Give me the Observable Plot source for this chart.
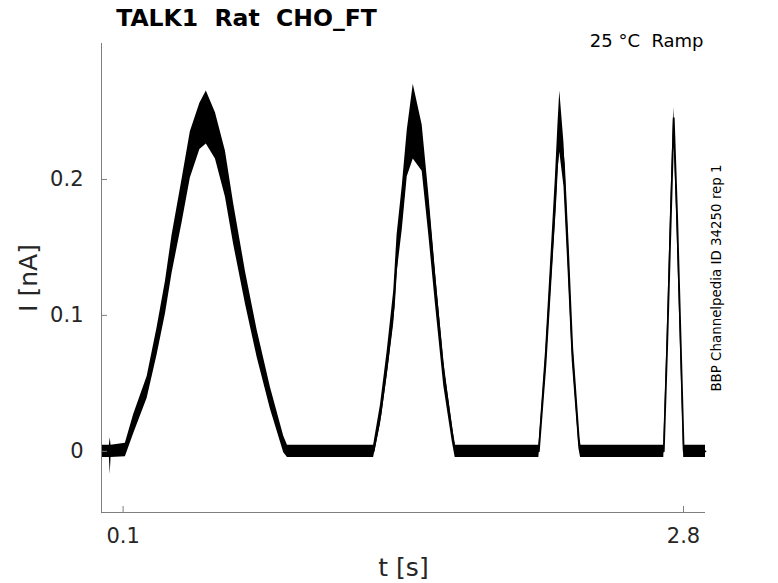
<!DOCTYPE html>
<html>
<head>
<meta charset="utf-8">
<script src="https://cdn.jsdelivr.net/npm/d3@7"></script>
<script src="https://cdn.jsdelivr.net/npm/@observablehq/plot@0.6"></script>
<style>
  body { margin: 0; background: #fff; }
  svg text { white-space: pre; }
</style>
</head>
<body>
<div id="chart"></div>
<script>
// ---- data ----
const titleText = "TALK1  Rat  CHO_FT";
const conditionText = "25 °C  Ramp";
const sourceText = "BBP Channelpedia ID 34250 rep 1";
const xLabel = "t [s]";
const yLabel = "I [nA]";
const xTicks = [0.1, 2.8];
const yTicks = [0, 0.1, 0.2];
const xDomain = [-0.004, 2.906];
const yDomain = [-0.045, 0.3];

// time (s), mid current (nA), lower and upper edge of the noisy trace band (nA)
const tPts = [0.000, 0.034, 0.038, 0.042, 0.111, 0.151, 0.216, 0.264, 0.304, 0.336, 0.384, 0.424, 0.470, 0.501, 0.545, 0.593, 0.633, 0.690, 0.746, 0.810, 0.874, 0.892,
  1.100, 1.307, 1.340, 1.372, 1.404, 1.420, 1.445, 1.469, 1.498, 1.541, 1.573, 1.605, 1.645, 1.686, 1.700,
  1.900, 2.103, 2.135, 2.159, 2.183, 2.195, 2.204, 2.224, 2.243, 2.264, 2.296, 2.304,
  2.500, 2.705, 2.721, 2.737, 2.753, 2.769, 2.785, 2.801, 2.906];
const iMid = [0, 0, 0, 0, 0.001, 0.020, 0.047, 0.081, 0.113, 0.145, 0.184, 0.218, 0.238, 0.245, 0.232, 0.204, 0.167, 0.120, 0.079, 0.039, 0.005, 0,
  0, 0, 0.027, 0.064, 0.106, 0.145, 0.179, 0.219, 0.242, 0.223, 0.174, 0.120, 0.057, 0.013, 0,
  0, 0, 0.064, 0.125, 0.186, 0.223, 0.240, 0.211, 0.150, 0.076, 0.008, 0,
  0, 0, 0.076, 0.162, 0.245, 0.174, 0.088, 0, 0];
const iLo = [-0.0045, -0.0045, -0.017, -0.0045, -0.004, 0.013, 0.039, 0.071, 0.101, 0.131, 0.168, 0.201, 0.222, 0.226, 0.215, 0.187, 0.152, 0.108, 0.069, 0.031, -0.001, -0.0045,
  -0.0045, -0.0045, 0.020, 0.055, 0.094, 0.131, 0.163, 0.202, 0.215, 0.206, 0.159, 0.108, 0.048, 0.007, -0.0045,
  -0.0045, -0.0045, 0.055, 0.113, 0.170, 0.206, 0.220, 0.195, 0.136, 0.066, 0.002, -0.0045,
  -0.0045, -0.0045, 0.068, 0.150, 0.238, 0.162, 0.079, -0.0045, -0.0045];
const iHi = [0.0045, 0.0045, 0.010, 0.0045, 0.006, 0.027, 0.055, 0.091, 0.125, 0.159, 0.200, 0.235, 0.256, 0.265, 0.249, 0.221, 0.182, 0.132, 0.089, 0.047, 0.011, 0.0045,
  0.0045, 0.0045, 0.034, 0.073, 0.118, 0.159, 0.195, 0.236, 0.270, 0.240, 0.189, 0.132, 0.066, 0.019, 0.0045,
  0.0045, 0.0045, 0.073, 0.137, 0.202, 0.240, 0.265, 0.227, 0.164, 0.086, 0.014, 0.0045,
  0.0045, 0.0045, 0.084, 0.174, 0.253, 0.186, 0.097, 0.0045, 0.0045];

const trace = tPts.map((t, i) => ({t, mid: iMid[i], lo: iLo[i], hi: iHi[i]}));

const axisGray = "#7f7f7f";
const textGray = "#262626";

const chart = Plot.plot({
  width: 778,
  height: 583,
  marginLeft: 101,
  marginRight: 73,
  marginTop: 43,
  marginBottom: 71,
  style: {fontFamily: "DejaVu Sans", background: "#fff"},
  x: {domain: xDomain},
  y: {domain: yDomain},
  marks: [
    Plot.areaY(trace, {x: "t", y1: "lo", y2: "hi", fill: "black", curve: "linear"}),
    Plot.line(trace, {x: "t", y: "mid", stroke: "black", strokeWidth: 1.8}),
    Plot.ruleX([xDomain[0]], {stroke: axisGray, strokeWidth: 1}),
    Plot.ruleY([yDomain[0]], {stroke: axisGray, strokeWidth: 1}),
    Plot.axisX({ticks: xTicks, tickSize: -6, tickPadding: 22, tickFormat: d => String(d), stroke: axisGray, fill: textGray, fontSize: 21, label: null}),
    Plot.axisY({ticks: yTicks, tickSize: -6, tickPadding: 24, tickFormat: d => String(d), stroke: axisGray, fill: textGray, fontSize: 21, label: null}),
    Plot.text([xLabel], {text: d => d, frameAnchor: "bottom", dy: 55, fontSize: 25, fill: textGray, textAnchor: "middle", lineAnchor: "middle"}),
    Plot.text([yLabel], {text: d => d, frameAnchor: "left", dx: -73, rotate: -90, fontSize: 25, fill: textGray, textAnchor: "middle", lineAnchor: "middle"}),
    Plot.text([titleText], {text: d => d, frameAnchor: "top-left", dx: 145, dy: -25, fontSize: 23.5, fontWeight: "bold", fill: "black", textAnchor: "middle", lineAnchor: "middle"}),
    Plot.text([conditionText], {text: d => d, frameAnchor: "top-right", dx: -2, dy: -2, fontSize: 18, fill: "black", textAnchor: "end", lineAnchor: "middle"}),
    Plot.text([sourceText], {text: d => d, frameAnchor: "right", dx: 11, rotate: -90, fontSize: 13.4, fill: "black", textAnchor: "middle", lineAnchor: "middle"})
  ]
});
document.getElementById("chart").appendChild(chart);
</script>
</body>
</html>
